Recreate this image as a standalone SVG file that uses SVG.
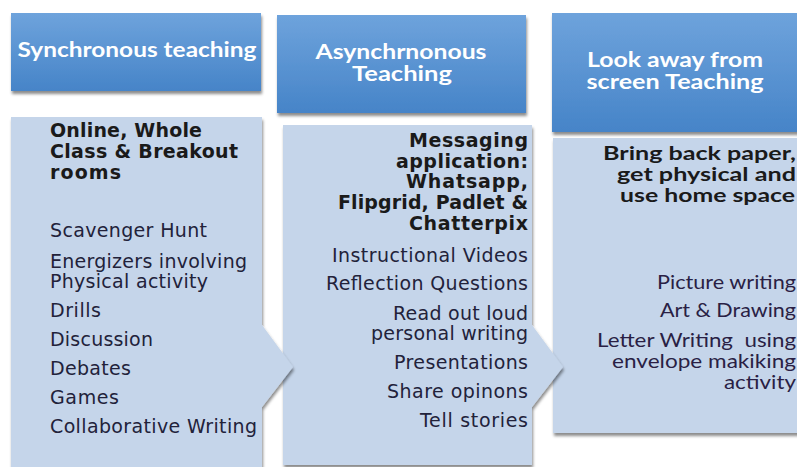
<svg xmlns="http://www.w3.org/2000/svg" width="797" height="467" viewBox="0 0 797 467">
<style>
.hdr{fill:url(#hg);filter:url(#sh)}
.body{fill:#c5d5ea;filter:url(#sh)}
.ht{font-family:Lato,"DejaVu Sans",sans-serif;font-weight:bold;font-size:20px;fill:#ffffff;text-anchor:middle}
.b{font-family:"DejaVu Sans",Verdana,sans-serif;font-weight:bold;font-size:19px;fill:#1a1a1a}
.r{font-family:"DejaVu Sans",Verdana,sans-serif;font-size:19px;fill:#22223a}
.b3{font-family:Lato,"DejaVu Sans",sans-serif;font-weight:bold;font-size:18px;fill:#1a1a1a;text-anchor:end}
.r3{font-family:Lato,"DejaVu Sans",sans-serif;font-size:19px;fill:#2a1f45;text-anchor:end}
.e{text-anchor:end}
</style>
<defs>
<linearGradient id="hg" x1="0" y1="0" x2="0" y2="1">
<stop offset="0" stop-color="#6ea3dc"/>
<stop offset="1" stop-color="#4684c8"/>
</linearGradient>
<filter id="sh" x="-10%" y="-10%" width="120%" height="120%">
<feDropShadow dx="1" dy="3" stdDeviation="1.6" flood-color="#000" flood-opacity="0.45"/>
</filter>
</defs>
<rect width="797" height="467" fill="#ffffff"/>

<g id="body3">
<rect class="body" x="553" y="138" width="262" height="295"/>
<text class="b3" x="796" y="160" textLength="193" lengthAdjust="spacingAndGlyphs">Bring back paper,</text>
<text class="b3" x="796" y="181" textLength="179" lengthAdjust="spacingAndGlyphs">get physical and</text>
<text class="b3" x="795" y="202" textLength="175" lengthAdjust="spacingAndGlyphs">use home space</text>
<text class="r3" x="796" y="289" textLength="139" lengthAdjust="spacingAndGlyphs">Picture writing</text>
<text class="r3" x="796" y="317" textLength="136" lengthAdjust="spacingAndGlyphs">Art &amp; Drawing</text>
<text class="r3" x="796" y="347" textLength="199" lengthAdjust="spacingAndGlyphs" xml:space="preserve">Letter Writing  using</text>
<text class="r3" x="796" y="368" textLength="184" lengthAdjust="spacingAndGlyphs">envelope makiking</text>
<text class="r3" x="796" y="389" textLength="72" lengthAdjust="spacingAndGlyphs">activity</text>
</g>

<g id="body2">
<polygon class="body" points="283,125 532,125 532,325 563,367 532,407 532,465 283,465"/>
<text class="b e" x="528" y="147" textLength="119">Messaging</text>
<text class="b e" x="528" y="168" textLength="132">application:</text>
<text class="b e" x="528" y="188" textLength="122">Whatsapp,</text>
<text class="b e" x="528" y="209" textLength="190">Flipgrid, Padlet &amp;</text>
<text class="b e" x="528" y="230" textLength="119">Chatterpix</text>
<text class="r e" x="528" y="262" textLength="196">Instructional Videos</text>
<text class="r e" x="528" y="290" textLength="202">Reflection Questions</text>
<text class="r e" x="528" y="320" textLength="135">Read out loud</text>
<text class="r e" x="528" y="340" textLength="157">personal writing</text>
<text class="r e" x="528" y="369" textLength="134">Presentations</text>
<text class="r e" x="528" y="398" textLength="141">Share opinons</text>
<text class="r e" x="528" y="427" textLength="108">Tell stories</text>
</g>

<g id="body1">
<polygon class="body" points="11,117 262,117 262,325 293,367 262,407 262,480 11,480"/>
<text class="b" x="50" y="137" textLength="152">Online, Whole</text>
<text class="b" x="50" y="158" textLength="188">Class &amp; Breakout</text>
<text class="b" x="50" y="179" textLength="71">rooms</text>
<text class="r" x="50" y="237" textLength="157">Scavenger Hunt</text>
<text class="r" x="50" y="268" textLength="197">Energizers involving</text>
<text class="r" x="50" y="288" textLength="158">Physical activity</text>
<text class="r" x="50" y="317" textLength="51">Drills</text>
<text class="r" x="50" y="346" textLength="103">Discussion</text>
<text class="r" x="50" y="375" textLength="81">Debates</text>
<text class="r" x="50" y="404" textLength="69">Games</text>
<text class="r" x="50" y="433" textLength="207">Collaborative Writing</text>
</g>

<g id="header1">
<rect class="hdr" x="11" y="13" width="250" height="78"/>
<text class="ht" x="137" y="57" textLength="239" lengthAdjust="spacingAndGlyphs">Synchronous teaching</text>
</g>
<g id="header2">
<rect class="hdr" x="277" y="15" width="249" height="98"/>
<text class="ht" x="401" y="59" textLength="171" lengthAdjust="spacingAndGlyphs">Asynchrnonous</text>
<text class="ht" x="402" y="81" textLength="100" lengthAdjust="spacingAndGlyphs">Teaching</text>
</g>
<g id="header3">
<rect class="hdr" x="552" y="13" width="252" height="119"/>
<text class="ht" x="675" y="67" textLength="176" lengthAdjust="spacingAndGlyphs">Look away from</text>
<text class="ht" x="675" y="89" textLength="177" lengthAdjust="spacingAndGlyphs">screen Teaching</text>
</g>

<g id="connectors"></g>
</svg>
